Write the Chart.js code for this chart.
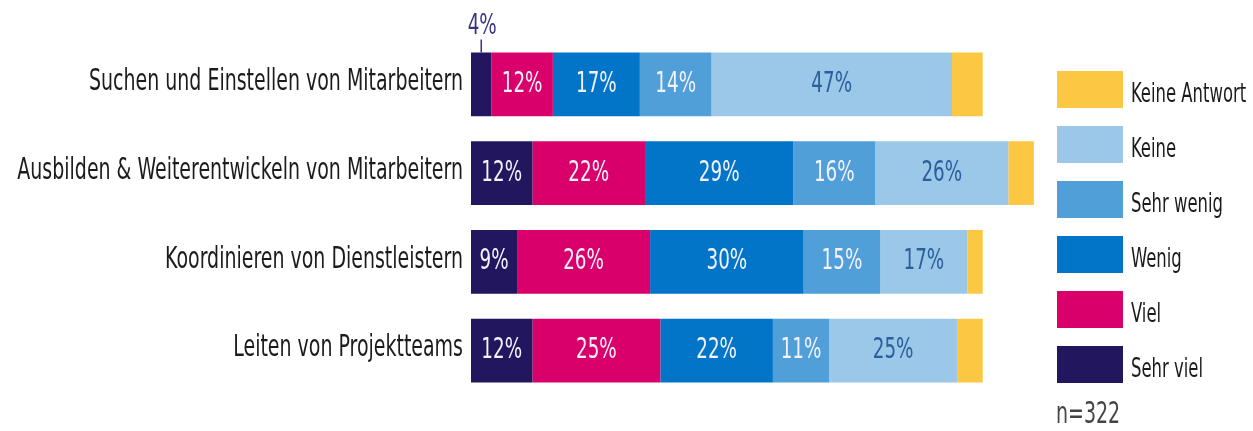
<!DOCTYPE html>
<html lang="de">
<head>
    <meta charset="UTF-8">
    <title>Führungsaufgaben</title>
    <script src="https://cdn.jsdelivr.net/npm/chart.js"></script>
    <style>
        body { margin: 0; background: #fff; }
        canvas { display: block; }
    </style>
</head>
<body>
    <canvas id="aufgabenChart" width="1253" height="431"></canvas>

    <script>
        // Kategorien (Zeilen)
        const categories = [
            'Suchen und Einstellen von Mitarbeitern',
            'Ausbilden & Weiterentwickeln von Mitarbeitern',
            'Koordinieren von Dienstleistern',
            'Leiten von Projektteams'
        ];

        // Antworten in Prozent, je Kategorie
        const sehrViel     = [4, 12, 9, 12];
        const viel         = [12, 22, 26, 25];
        const wenig        = [17, 29, 30, 22];
        const sehrWenig    = [14, 16, 15, 11];
        const keine        = [47, 26, 17, 25];
        const keineAntwort = [6, 5, 3, 5];

        const seriesNames = ['Sehr viel', 'Viel', 'Wenig', 'Sehr wenig', 'Keine', 'Keine Antwort'];
        const seriesColors = ['#22175e', '#d9006c', '#0375c9', '#509fd9', '#9bc8e8', '#fcc743'];
        const labelColors = ['#f4f2fa', '#f4f2fa', '#f4f2fa', '#f4f2fa', '#2a5e9c', null];
        const sampleNote = 'n=322';

        const FONT = "'Liberation Sans Narrow', 'DejaVu Sans Condensed', sans-serif";
        let squeeze = 0.8;

        // Text schmal gezogen zeichnen (schmale Schrift nachgebildet)
        function narrowText(ctx, text, x, y, size, align, color) {
            ctx.save();
            ctx.font = size + 'px ' + FONT;
            ctx.fillStyle = color;
            ctx.textAlign = align;
            ctx.textBaseline = 'middle';
            ctx.translate(x, y);
            ctx.scale(squeeze, 1);
            ctx.fillText(text, 0, 0);
            ctx.restore();
        }

        // Beschriftungen: Kategorien links, Prozentwerte, Legendentexte, n unten rechts
        const labelPlugin = {
            id: 'labelPlugin',
            afterDraw(chart) {
                const ctx = chart.ctx;
                const area = chart.chartArea;
                const yScale = chart.scales.y;

                // Stauchung so, dass die erste Zeile 374px breit wird
                ctx.save();
                ctx.font = '30px ' + FONT;
                squeeze = Math.min(1, 374 / ctx.measureText(categories[0]).width);
                ctx.restore();

                categories.forEach((cat, i) => {
                    const y = yScale.getPixelForValue(i);
                    narrowText(ctx, cat, area.left - 8, y - 2, 30, 'right', '#1b1b1b');
                });

                chart.data.datasets.forEach((ds, di) => {
                    if (!labelColors[di]) return;
                    chart.getDatasetMeta(di).data.forEach((bar, i) => {
                        const w = Math.abs(bar.x - bar.base);
                        const cx = (bar.x + bar.base) / 2;
                        const text = ds.data[i] + '%';
                        if (w < 30) {
                            // zu schmal: Wert über dem Balken mit Hinweisstrich
                            const top = bar.y - bar.height / 2;
                            ctx.save();
                            ctx.strokeStyle = '#3a3480';
                            ctx.lineWidth = 1.5;
                            ctx.beginPath();
                            ctx.moveTo(cx, top - 13);
                            ctx.lineTo(cx, top);
                            ctx.stroke();
                            ctx.restore();
                            narrowText(ctx, text, cx + 1, top - 26, 29, 'center', '#3a3480');
                        } else {
                            narrowText(ctx, text, cx, bar.y, 29, 'center', labelColors[di]);
                        }
                    });
                });

                // Legendentexte neben den Kästchen der Chart.js-Legende
                const legend = chart.legend;
                const boxW = legend.options.labels.boxWidth;
                const boxH = legend.options.labels.boxHeight;
                legend.legendItems.forEach((item, i) => {
                    const hb = legend.legendHitBoxes[i];
                    narrowText(ctx, item.text, hb.left + boxW + 8, hb.top + boxH / 2 + 6, 26, 'left', '#1b1b1b');
                });

                narrowText(ctx, sampleNote, 1056, 415, 30, 'left', '#444');
            }
        };

        const series = [sehrViel, viel, wenig, sehrWenig, keine, keineAntwort];

        new Chart(document.getElementById('aufgabenChart'), {
            type: 'bar',
            data: {
                labels: categories,
                datasets: series.map((values, i) => ({
                    label: seriesNames[i],
                    data: values,
                    backgroundColor: seriesColors[i],
                    borderWidth: 0,
                    barPercentage: 0.72,
                    categoryPercentage: 1
                }))
            },
            options: {
                indexAxis: 'y',
                responsive: false,
                animation: false,
                layout: {
                    padding: { top: 40, bottom: 17, left: 0, right: 0 }
                },
                scales: {
                    x: {
                        stacked: true,
                        min: 0,
                        max: 111,
                        ticks: { display: false },
                        grid: { display: false },
                        border: { display: false },
                        afterFit(scale) { scale.height = 19; }
                    },
                    y: {
                        stacked: true,
                        ticks: { display: false },
                        grid: { display: false, drawTicks: false },
                        border: { display: false },
                        afterFit(scale) { scale.width = 471; }
                    }
                },
                plugins: {
                    tooltip: { enabled: false },
                    legend: {
                        position: 'right',
                        reverse: true,
                        maxWidth: 214,
                        labels: {
                            boxWidth: 66,
                            boxHeight: 37,
                            padding: 18,
                            color: 'rgba(0,0,0,0)',
                            font: { family: FONT, size: 23 }
                        }
                    }
                }
            },
            plugins: [labelPlugin]
        });
    </script>
</body>
</html>
